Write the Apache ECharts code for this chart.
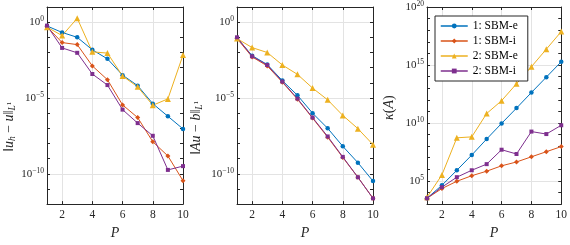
<!DOCTYPE html>
<html><head><meta charset="utf-8">
<script src="https://cdn.jsdelivr.net/npm/echarts@6/dist/echarts.min.js"></script>
<style>html,body{margin:0;padding:0;background:#fff}#c{width:570px;height:245px}</style>
</head><body><div id="c"></div>
<script>
// ---------- data ----------
const P = ['1','2','3','4','5','6','7','8','9','10'];
const seriesNames = ['1: SBM-e','1: SBM-i','2: SBM-e','2: SBM-i'];
const xTickLabels = ['2','4','6','8','10'];
const yTickExpErr = [-10, -5, 0];
const yTickExpCond = [5, 10, 15, 20];

// panel 1: ||u_h - u||_{L1}
const err_1e = [5.6e-1, 2.1e-1, 1.0e-1, 1.5e-2, 3.8e-3, 3.2e-4, 6.5e-5, 4.2e-6, 6.2e-7, 9.1e-8];
const err_1i = [5.0e-1, 4.5e-2, 3.3e-2, 1.3e-3, 1.6e-4, 3.5e-6, 5.1e-7, 1.3e-8, 1.5e-9, 3.5e-11];
const err_2e = [4.7e-1, 1.3e-1, 1.8e0, 1.1e-2, 9.1e-3, 2.8e-4, 5.4e-5, 3.3e-6, 8.7e-6, 6.8e-3];
const err_2i = [5.9e-1, 2.0e-2, 9.5e-3, 3.8e-4, 7.1e-5, 1.7e-6, 2.2e-7, 3.2e-8, 1.8e-10, 3.2e-10];
// panel 2: ||Au - b||_{L1}
const res_1e = [9.1e-2, 6.2e-3, 1.6e-3, 1.4e-4, 1.5e-5, 1.0e-6, 1.0e-7, 6.5e-9, 5.4e-10, 3.3e-11];
const res_1i = [8.3e-2, 5.1e-3, 1.3e-3, 1.1e-4, 8.3e-6, 4.7e-7, 2.6e-8, 1.2e-9, 5.9e-11, 2.4e-12];
const res_2e = [8.3e-2, 2.1e-2, 1.0e-2, 1.5e-3, 3.6e-4, 4.5e-5, 7.5e-6, 7.1e-7, 9.5e-8, 8.3e-9];
const res_2i = [1.0e-1, 5.6e-3, 1.5e-3, 1.2e-4, 9.1e-6, 5.1e-7, 2.9e-8, 1.3e-9, 5.9e-11, 2.4e-12];
// panel 3: kappa(A)
const cond_1e = [3.2e3, 4.2e4, 8.3e5, 1.7e7, 4.1e8, 9.1e9, 1.9e11, 4.2e12, 8.9e13, 1.9e15];
const cond_1i = [3.2e3, 2.2e4, 9.3e4, 2.8e5, 6.9e5, 2.0e6, 4.3e6, 1.2e7, 3.3e7, 9.1e7];
const cond_2e = [3.9e3, 3.3e5, 5.2e8, 6.3e8, 6.5e10, 8.3e11, 2.4e13, 7.1e14, 2.3e16, 7.6e17];
const cond_2i = [3.2e3, 2.9e4, 2.1e5, 8.3e5, 2.8e6, 4.9e7, 2.1e7, 1.8e9, 1.1e9, 6.3e9];

// ---------- styling ----------
const FONT = "Liberation Serif";
const AX = '#262626';
const GRID = '#e3e3e3';
const colors = ['#0072BD', '#D95319', '#EDB120', '#7E2F8E'];
const symbols = ['circle', 'diamond', 'triangle', 'rect'];
const symbolSizes = [4.5, 5, 6, 4];

const grids = [
  {left: 47, top: 7, width: 136, height: 209},
  {left: 237, top: 7, width: 136, height: 209},
  {left: 427, top: 7, width: 136, height: 209}
];
const yRanges = [[-12, 1], [-12, 1], [3, 20]];
const yTickLists = [yTickExpErr, yTickExpErr, yTickExpCond];

const isEven = (i, v) => Number(v) % 2 === 0;
const clear = 'rgba(0,0,0,0)';

function expFormatter(list) {
  return v => {
    const r = Math.round(v);
    if (Math.abs(v - r) > 1e-6 || !list.includes(r)) return '';
    return '{b|10}{e|' + String(r).replace('-', '\u2212') + '}';
  };
}
const labelRich = {
  b: {fontSize: 11, fontFamily: FONT, color: AX, lineHeight: 14},
  e: {fontSize: 7.5, fontFamily: FONT, color: AX, lineHeight: 8, verticalAlign: 'top'}
};

const nameRich = {
  n: {fontSize: 14, fontFamily: FONT, fill: AX, color: AX, lineHeight: 17},
  i: {fontSize: 14, fontFamily: FONT, fontStyle: 'italic', fill: AX, color: AX, lineHeight: 17},
  s: {fontSize: 9.5, fontFamily: FONT, fontStyle: 'italic', fill: AX, color: AX, lineHeight: 10, verticalAlign: 'bottom'},
  p: {fontSize: 7, fontFamily: FONT, fill: AX, color: AX, lineHeight: 8, verticalAlign: 'middle'}
};
const yNames = [
  '{n|\u2016}{i|u}{s|h}{n| \u2212 }{i|u}{n|\u2016}{s|L}{p|1}',
  '{n|\u2016}{i|Au}{n| \u2212 }{i|b}{n|\u2016}{s|L}{p|1}',
  '{i|\u03BA}{n|(}{i|A}{n|)}'
];
// start (bottom) point of each rotated y-axis title
const yNamePos = [[9, 152], [196, 155], [389, 120]];

const xAxes = [], yAxes = [];
grids.forEach((g, k) => {
  xAxes.push({
    type: 'category', gridIndex: k, position: 'bottom', data: P, boundaryGap: false,
    axisLine: {show: true, onZero: false, lineStyle: {color: AX, width: 1}},
    axisTick: {show: true, inside: true, length: 3, interval: isEven, lineStyle: {color: AX}},
    axisLabel: {interval: isEven, fontFamily: FONT, fontSize: 11.5, color: AX, margin: 5,
      formatter: v => xTickLabels.includes(v) ? v : ''},
    splitLine: {show: true, interval: isEven, lineStyle: {color: GRID, width: 1}},
    name: 'P', nameLocation: 'middle', nameGap: 13,
    nameTextStyle: {fontFamily: FONT, fontStyle: 'italic', fontSize: 14, color: AX}
  });
});
grids.forEach((g, k) => {
  xAxes.push({
    type: 'category', gridIndex: k, position: 'top', data: P, boundaryGap: false,
    axisLine: {show: true, onZero: false, lineStyle: {color: AX, width: 1}},
    axisTick: {show: true, inside: true, length: 3, interval: isEven, lineStyle: {color: AX}},
    axisLabel: {show: false}, splitLine: {show: false}
  });
});
grids.forEach((g, k) => {
  yAxes.push({
    type: 'value', gridIndex: k, position: 'left', min: yRanges[k][0], max: yRanges[k][1], interval: 1,
    axisLine: {show: true, onZero: false, lineStyle: {color: AX, width: 1}},
    axisTick: {show: true, inside: true, length: 3, lineStyle: {color: AX}},
    axisLabel: {formatter: expFormatter(yTickLists[k]), rich: labelRich, margin: 3, fontFamily: FONT},
    splitLine: {show: true, lineStyle: {color: [clear, clear, GRID, clear, clear], width: 1}}
  });
});
grids.forEach((g, k) => {
  yAxes.push({
    type: 'value', gridIndex: k, position: 'right', min: yRanges[k][0], max: yRanges[k][1], interval: 1,
    axisLine: {show: true, onZero: false, lineStyle: {color: AX, width: 1}},
    axisTick: {show: true, inside: true, length: 3, lineStyle: {color: AX}},
    axisLabel: {show: false}, splitLine: {show: false}
  });
});

const panels = [
  [err_1e, err_1i, err_2e, err_2i],
  [res_1e, res_1i, res_2e, res_2i],
  [cond_1e, cond_1i, cond_2e, cond_2i]
];
const series = [];
panels.forEach((arrs, k) => {
  arrs.forEach((vals, j) => {
    series.push({
      type: 'line', name: seriesNames[j], xAxisIndex: k, yAxisIndex: k,
      data: vals.map(v => Math.log10(v)),
      symbol: symbols[j], symbolSize: symbolSizes[j], showSymbol: true,
      itemStyle: {color: colors[j]},
      lineStyle: {color: colors[j], width: 1},
      emphasis: {disabled: true}
    });
  });
});

const graphics = yNames.map((t, k) => ({
  type: 'text', x: yNamePos[k][0], y: yNamePos[k][1], rotation: Math.PI / 2, silent: true,
  style: {text: t, rich: nameRich, align: 'left', verticalAlign: 'middle',
    textAlign: 'left', textVerticalAlign: 'middle', fill: AX,
    font: '14px ' + FONT}
}));

const chart = echarts.init(document.getElementById('c'), null, {renderer: 'canvas'});
chart.setOption({
  animation: false,
  backgroundColor: '#fff',
  textStyle: {fontFamily: FONT},
  grid: grids,
  xAxis: xAxes,
  yAxis: yAxes,
  graphic: graphics,
  legend: {
    data: seriesNames, orient: 'vertical', left: 435, top: 16,
    itemWidth: 27, itemHeight: 6, itemGap: 3,
    padding: [4, 10, 4, 5],
    backgroundColor: '#fff', borderColor: AX, borderWidth: 1, borderRadius: 0,
    textStyle: {fontFamily: FONT, fontSize: 11.5, color: '#000'},
    lineStyle: {width: 1.5},
    selectedMode: false
  },
  series: series
});
</script>
</body></html>
